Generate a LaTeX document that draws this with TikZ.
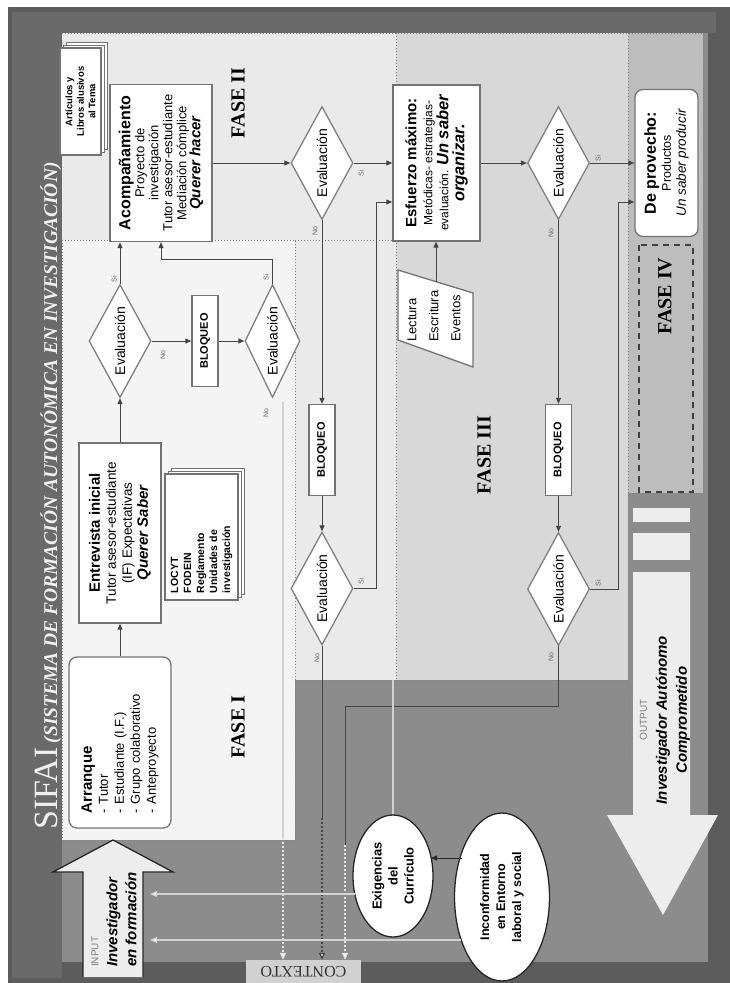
\documentclass[tikz,border=0pt]{standalone}
\usepackage{fontspec}
\setmainfont{Liberation Sans}
\newfontfamily\serifx{Liberation Serif}
\usetikzlibrary{shapes.geometric,arrows.meta,calc}
\definecolor{frame}{HTML}{5C5C5C}
\definecolor{band}{HTML}{6A6A6A}
\definecolor{ctxgray}{HTML}{8C8C8C}
\definecolor{fA}{HTML}{F4F4F4}
\definecolor{fB}{HTML}{EAEAEA}
\definecolor{fC}{HTML}{D8D8D8}
\definecolor{fD}{HTML}{BDBDBD}
\definecolor{lnk}{HTML}{454545}
\definecolor{lite}{HTML}{D2D2D2}
\definecolor{arrowfill}{HTML}{EDEDED}
\begin{document}
\begin{tikzpicture}[x=1pt,y=-1pt,
  conn/.style={draw=lnk, line width=1pt, -{Triangle[length=6pt,width=5pt]}},
  plain/.style={draw=lnk, line width=1pt},
  litearrow/.style={draw=lite, line width=1.2pt, -{Triangle[length=7pt,width=6pt,fill=white]}},
  box/.style={draw=black!55, line width=1.3pt, fill=white, rotate=90, inner sep=3pt, align=center},
  rbox/.style={box, rounded corners=8pt},
  dia/.style={diamond, draw=black!50, line width=1.3pt, fill=white, rotate=90, inner sep=0pt, aspect=1.8, minimum width=113pt, minimum height=62pt, font=\fontsize{14}{16}\selectfont},
  blq/.style={box, minimum width=91pt, minimum height=26pt, inner sep=0pt, font=\bfseries\fontsize{11}{12}\selectfont},
  lbl/.style={rotate=90, font=\fontsize{7}{8}\selectfont, text=black!60, inner sep=0pt},
  fase/.style={rotate=90, font=\serifx\bfseries\fontsize{20}{22}\selectfont, inner sep=0pt},
  panel/.style={draw=black!50, line width=1pt, dotted},
  page/.style={draw=black!55, line width=1pt, fill=white},
  ell/.style={ellipse, draw=black!85, line width=1.3pt, fill=white, rotate=90, inner sep=0pt, align=center, font=\bfseries\fontsize{12.5}{16}\selectfont},
]
\useasboundingbox (0,0) rectangle (730,983);
% ---------- background frame ----------
\fill[white] (0,0) rectangle (730,983);
\fill[frame] (8,7) rectangle (730,983);
\fill[band] (12,12) rectangle (62,978);
\fill[band] (62,12) rectangle (716,33);
\fill[ctxgray] (62,33) rectangle (708,962);
% ---------- phase panels ----------
\fill[fB] (62,33) rectangle (396,680);
\fill[fA] (62,240) rectangle (295,840);
\fill[fC] (396,33) rectangle (628,680);
\fill[fD] (628,33) rectangle (703,493);
\draw[panel] (62,33) -- (703,33) -- (703,493) -- (628,493);
\draw[panel] (62,240) rectangle (295,840);
\draw[panel] (295,240) -- (396,240);
\draw[panel] (396,33) -- (396,680);
\draw[panel] (295,680) -- (628,680);
\draw[panel] (628,33) -- (628,760);
\draw[black!75, line width=1.6pt, dash pattern=on 6pt off 5pt] (639,245) rectangle (693,492);
% ---------- title ----------
\node[rotate=90, anchor=base west, inner sep=0pt, text=black!6] (title) at (57,830)
  {{\serifx\fontsize{34}{34}\selectfont SIFAI}\hspace{4pt}{\serifx\bfseries\itshape\fontsize{19.5}{20}\selectfont (SISTEMA DE FORMACIÓN AUTONÓMICA EN INVESTIGACIÓN)}};
% ---------- INPUT / OUTPUT arrows ----------
\filldraw[fill=arrowfill, draw=black!85, line width=1.3pt]
  (83,977) -- (83,872) -- (53,872) -- (113,840) -- (173,872) -- (143,872) -- (143,977);
\node[rotate=90, anchor=west, align=left, inner sep=0pt, font=\bfseries\itshape\fontsize{15}{19}\selectfont] (intext) at (114,967)
  {{\mdseries\upshape\fontsize{10}{19}\selectfont\color{black!50}INPUT}\\Investigador\\en formación};
\fill[arrowfill] (633,508) rectangle (690,522);
\fill[arrowfill] (633,533) rectangle (690,560);
\fill[arrowfill] (633,572) -- (690,572) -- (690,815) -- (718,815) -- (663,915) -- (607,815) -- (633,815) -- cycle;
\node[rotate=90, align=center, inner sep=0pt, font=\bfseries\itshape\fontsize{15}{20}\selectfont] (outtext) at (665,720)
  {{\mdseries\upshape\fontsize{10}{20}\selectfont\color{black!50}OUTPUT}\\Investigador Autónomo\\Comprometido};
% ---------- FASE labels ----------
\node[fase] (f1) at (238,727) {FASE I};
\node[fase] (f2) at (238,103) {FASE II};
\node[fase] (f3) at (484,455) {FASE III};
\node[fase] (f4) at (665,296) {FASE IV};
% ---------- FASE I ----------
\node[rbox, minimum width=171pt, minimum height=102pt, text width=141pt, align=left, font=\fontsize{13}{16}\selectfont] (arr) at (120,742.5)
  {{\bfseries\fontsize{15}{16}\selectfont Arranque}\\- Tutor\\- Estudiante (I.F.)\\- Grupo colaborativo\\- Anteproyecto};
\node[box, minimum width=180pt, minimum height=82pt, font=\fontsize{13.5}{16}\selectfont] (ent) at (120,533)
  {{\bfseries\fontsize{15}{17}\selectfont Entrevista inicial}\\Tutor asesor-estudiante\\(IF) Expectativas\\{\bfseries\itshape\fontsize{15}{17}\selectfont Querer Saber}};
\filldraw[page] (171,468) rectangle (244,594);
\filldraw[page] (168,471) rectangle (241,597);
\node[box, minimum width=126pt, minimum height=73pt, text width=112pt, align=left, font=\bfseries\fontsize{10.5}{13}\selectfont] (doc) at (201.5,537)
  {LOCYT\\FODEIN\\Reglamento\\Unidades de\\investigación};
\node[dia] (d1) at (120,341) {Evaluación};
\node[blq] (b1) at (205,341) {BLOQUEO};
\node[dia, minimum height=55pt] (d2) at (272.5,341) {Evaluación};
% ---------- FASE II ----------
\filldraw[page] (66,42) rectangle (107,149);
\filldraw[page] (63,45) rectangle (104,152);
\node[box, minimum width=107pt, minimum height=41pt, inner sep=1pt, font=\bfseries\fontsize{9.5}{11.5}\selectfont] (art) at (80.5,101.5)
  {Artículos y\\Libros alusivos\\al Tema};
\node[box, minimum width=157pt, minimum height=102pt, font=\fontsize{13}{14}\selectfont] (acomp) at (161,163)
  {{\bfseries\fontsize{16}{18}\selectfont Acompañamiento}\\Proyecto de\\investigación\\Tutor asesor-estudiante\\Mediación cómplice\\{\bfseries\itshape\fontsize{15}{18}\selectfont Querer hacer}};
\node[dia] (d3) at (322,163) {Evaluación};
\node[blq] (b2) at (322,450) {BLOQUEO};
\node[dia] (d4) at (322,588.5) {Evaluación};
% ---------- FASE III ----------
\node[box, minimum width=156pt, minimum height=87pt, font=\fontsize{12}{16}\selectfont] (esf) at (436.5,163)
  {{\bfseries\fontsize{15}{17}\selectfont Esfuerzo máximo:}\\Metódicas- estrategias-\\evaluación. {\bfseries\itshape\fontsize{16.5}{18}\selectfont Un saber}\\{\bfseries\itshape\fontsize{16.5}{18}\selectfont organizar.}};
\filldraw[page, line width=1.3pt] (398,270) -- (473,293) -- (473,367) -- (398,340) -- cycle;
\coordinate (lecttop) at (436,282);
\node[rotate=90, anchor=west, align=left, inner sep=0pt, font=\fontsize{13}{22}\selectfont] (lect) at (434,342)
  {Lectura\\Escritura\\Eventos};
\node[dia] (d5) at (558.5,163) {Evaluación};
\node[blq] (b3) at (558.5,450) {BLOQUEO};
\node[dia] (d6) at (558.5,589) {Evaluación};
% ---------- FASE IV ----------
\node[rbox, minimum width=147pt, minimum height=63pt, font=\fontsize{12.5}{15}\selectfont] (prov) at (666.5,163)
  {{\bfseries\fontsize{16}{18}\selectfont De provecho:}\\Productos\\{\itshape\fontsize{13.5}{16}\selectfont Un saber producir}};
% ---------- context ----------
\node[ell, minimum width=122pt, minimum height=80pt, font=\bfseries\fontsize{13}{16}\selectfont] (exig) at (393,876) {Exigencias\\del\\Currículo};
\node[ell, minimum width=168pt, minimum height=95pt] (inc) at (502,897) {Inconformidad\\en Entorno\\laboral y social};
\node[fill=black!18, minimum width=115pt, minimum height=23pt, inner sep=0pt, rotate=180, text=black!80, font=\serifx\fontsize{16}{16}\selectfont] (ctx) at (303.5,971.5) {CONTEXTO};
% ---------- connectors ----------
\coordinate (y680) at (0,680);
\coordinate (y706) at (0,706);
\coordinate (y818) at (0,818);
\coordinate (y838) at (0,838);
\coordinate (y845) at (0,845);
\draw[conn] (arr.east) -- (ent.west);
\draw[conn] (ent.east) -- (d1.west);
\draw[conn] (d1.east) -- (d1.east |- acomp.west);
\draw[conn] (d1.south) -- (b1.north);
\draw[conn] (b1.south) -- (d2.north);
\draw[conn] (d2.east) -- ++(0,-24) -| (acomp.west);
\draw[conn] (acomp.south) -- (d3.north);
\draw[conn] (d3.south) -- (esf.north);
\draw[conn] (d3.west) -- (b2.east);
\draw[conn] (b2.west) -- (d4.east);
\coordinate (k1) at (376,202);
\draw[conn] (d4.south) -| (k1) -- (k1 -| esf.north);
\draw[conn] (esf.south) -- (d5.north);
\draw[conn] (d5.south) -- (prov.north);
\draw[conn] (d5.west) -- (b3.east);
\draw[conn] (b3.west) -- (d6.east);
\coordinate (k2) at (618,202);
\draw[conn] (d6.south) -| (k2) -- (k2 -| prov.north);
\draw[conn] (lecttop) -- (lecttop |- esf.west);
% branches to CONTEXTO
\coordinate (n2) at ($(d2.west)+(10.5,4)$);
\draw[draw=lite, line width=1.2pt] (n2) -- (n2 |- y838) coordinate (n2b);
\draw[draw=white!90!black, line width=1.3pt, dash pattern=on 2pt off 2pt, -{Triangle[length=7pt,width=6pt,fill=white]}] (n2b) -- (n2b |- ctx.south);
\draw[plain] (d4.west) -- (d4.west |- y818) coordinate (n4);
\draw[draw=lnk, line width=1.3pt, dash pattern=on 2pt off 2pt, -{Triangle[length=7pt,width=6pt,fill=white]}] (n4) -- (n4 |- ctx.south);
\coordinate (j6) at (345,706);
\draw[plain] (d6.west) |- (j6) -- (j6 |- y845) coordinate (n6);
\draw[draw=white!90!black, line width=1.3pt, dash pattern=on 2pt off 2pt, -{Triangle[length=7pt,width=6pt,fill=white]}] (n6) -- (n6 |- ctx.south);
% context sources
\coordinate (e1) at (431,858);
\coordinate (i1) at (462,858);
\draw[conn, draw=black!85] (i1) -- (e1);
\coordinate (e2) at (355,894);
\coordinate (i2) at (461,940);
\coordinate (inA) at (150,894);
\coordinate (inB) at (150,940);
\draw[litearrow] (e2) -- (inA);
\draw[litearrow] (i2) -- (inB);
\draw[draw=lite, line width=1.2pt] (exig.east) -- (exig.east |- y680);
% ---------- Si / No labels ----------
\node[lbl] at (114,279) {Si};
\node[lbl] at (163,355) {No};
\node[lbl] at (266,277) {Si};
\node[lbl] at (266,413) {No};
\node[lbl] at (361,173) {Si};
\node[lbl] at (315,231) {No};
\node[lbl] at (361,581) {Si};
\node[lbl] at (317,658) {No};
\node[lbl] at (598,158) {Si};
\node[lbl] at (551,233) {No};
\node[lbl] at (598,583) {Si};
\node[lbl] at (551,657) {No};
\end{tikzpicture}
\end{document}
